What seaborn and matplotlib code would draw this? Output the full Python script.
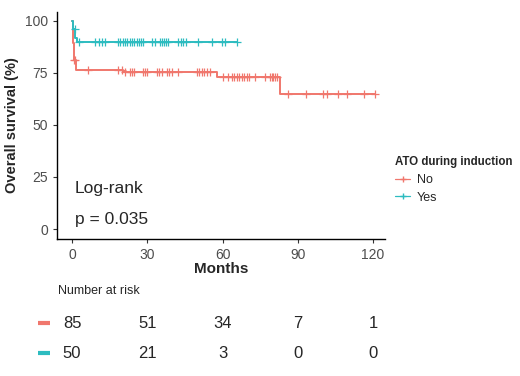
import numpy as np
import pandas as pd
import matplotlib
matplotlib.use("Agg")
import matplotlib.pyplot as plt
import seaborn as sns
from matplotlib.lines import Line2D

sns.set_theme(style="ticks")
plt.rcParams['font.family'] = ['Liberation Sans', 'DejaVu Sans']

# ---- data ----
groups = ["No", "Yes"]
colors = {"No": "#F0776D", "Yes": "#2DBCC0"}

# step changes (time in months, survival % after the drop)
no_t = [0, 0.2, 0.4, 0.7, 1.6, 20.5, 57.7, 83.1]
no_s = [100, 95.3, 89.4, 81.2, 76.4, 75.3, 73.2, 65.0]
no_end = 120.8
no_cens = [0.9, 1.3, 6.5, 18.5, 19.8, 21.1, 23.1, 23.8, 24.7, 28.4, 29.1, 30.0,
           33.8, 34.8, 35.8, 38.0, 38.8, 39.8, 42.4, 50.0, 50.8, 51.7, 52.6,
           53.7, 55.0, 60.3, 62.3, 63.7, 64.6, 65.7, 66.7, 67.7, 68.6, 69.7,
           70.7, 72.9, 76.9, 78.9, 79.6, 80.2, 80.9, 81.6, 86.2, 93.2, 100.1,
           101.7, 106.1, 109.7, 116.3, 120.8]

yes_t = [0, 0.3, 1.2, 1.9]
yes_s = [100, 96.0, 92.0, 89.8]
yes_end = 65.7
yes_cens = [1.0, 2.8, 9.2, 10.9, 11.8, 13.1, 18.5, 19.1, 20.2, 21.1, 22.1, 23.1,
            24.0, 24.9, 25.8, 26.7, 27.5, 28.4, 32.0, 33.1, 35.1, 36.0, 36.7,
            37.5, 38.4, 42.4, 43.5, 44.4, 45.5, 50.4, 55.7, 59.7, 61.0, 65.7]

risk_times = [0, 30, 60, 90, 120]
risk_no = [85, 51, 34, 7, 1]
risk_yes = [50, 21, 3, 0, 0]

curves = {"No": (no_t, no_s, no_end, no_cens),
          "Yes": (yes_t, yes_s, yes_end, yes_cens)}

line_rows, cens_rows = [], []
for g, (t, s, end, cens) in curves.items():
    for ti, si in zip(t + [end], s + [s[-1]]):
        line_rows.append((g, ti, si))
    for c in cens:
        idx = np.searchsorted(t, c, side="right") - 1
        cens_rows.append((g, c, s[idx]))
lines_df = pd.DataFrame(line_rows, columns=["group", "time", "surv"])
cens_df = pd.DataFrame(cens_rows, columns=["group", "time", "surv"])

# ---- figure ----
fig = plt.figure(figsize=(5.2, 3.76), dpi=100)
ax = fig.add_axes([57/520, 1-239/376, (385-57)/520, (239-12)/376])

for g in groups:
    sub = lines_df[lines_df.group == g]
    sns.lineplot(data=sub, x="time", y="surv", ax=ax, color=colors[g],
                 drawstyle="steps-post", estimator=None, sort=False,
                 linewidth=1.4, legend=False)
    csub = cens_df[cens_df.group == g]
    sns.scatterplot(data=csub, x="time", y="surv", ax=ax, color=colors[g],
                    marker="+", s=30, linewidth=0.9, legend=False, zorder=3)

ax.set_xlim(-6, 124.8)
ax.set_ylim(-4.8, 104.3)
ax.set_xticks(risk_times)
ax.set_yticks([0, 25, 50, 75, 100])
ax.tick_params(labelsize=10, labelcolor="#4d4d4d", color="#333333",
               length=3, width=0.8)
for sp in ["top", "right"]:
    ax.spines[sp].set_visible(False)
for sp in ["left", "bottom"]:
    ax.spines[sp].set_color("black")
    ax.spines[sp].set_linewidth(1.0)
ax.set_xlabel("Months", fontsize=11, fontweight="bold", labelpad=0)
ax.set_ylabel("Overall survival (%)", fontsize=10.5, fontweight="bold", labelpad=4)

ax.text(1.2, 19.5, "Log-rank", fontsize=12.5, va="center", ha="left")
ax.text(1.2, 4.5, "p = 0.035", fontsize=12.5, va="center", ha="left")

handles = [Line2D([0], [0], color=colors[g], marker="+", markersize=5,
                  linewidth=0.9) for g in groups]
leg = fig.legend(handles, groups, title="ATO during induction",
                 loc="upper left", bbox_to_anchor=(384/520, 1-145/376),
                 frameon=False, fontsize=9,
                 title_fontproperties={"weight": "bold", "size": 8.3},
                 handlelength=1.2, handletextpad=0.5, labelspacing=0.45,
                 alignment="left")

# ---- risk table ----
tax = fig.add_axes([57/520, 1-372/376, (385-57)/520, (372-280)/376])
tax.set_xlim(ax.get_xlim())
tax.set_ylim(372, 280)
tax.axis("off")
tax.text(-5.5, 291, "Number at risk", fontsize=9, va="center", ha="left")
for row_y, g, vals in [(323, "No", risk_no), (353, "Yes", risk_yes)]:
    tax.plot([-13.6, -8.8], [row_y, row_y], color=colors[g], linewidth=3,
             clip_on=False, solid_capstyle="butt")
    for x, v in zip(risk_times, vals):
        tax.text(x, row_y, str(v), fontsize=12, va="center", ha="center")

fig.savefig("out.png", dpi=100)
